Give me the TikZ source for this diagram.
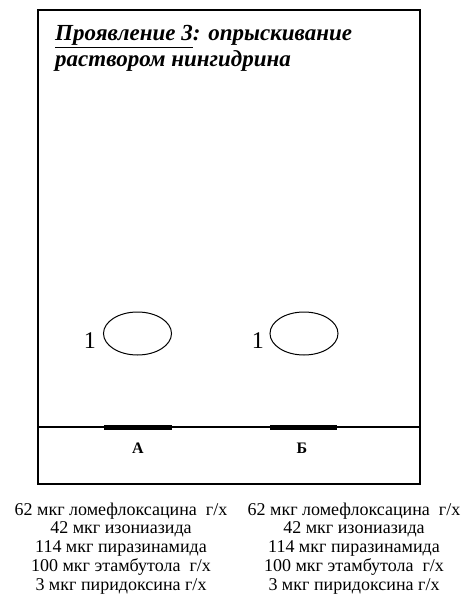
\documentclass[tikz,border=0pt]{standalone}
\usepackage{fontspec}
\setmainfont{Liberation Serif}
\usetikzlibrary{shapes.geometric}
\begin{document}
\begin{tikzpicture}[x=1pt,y=-1pt,
  plate/.style={draw,line width=1.6pt},
  spot/.style={draw,ellipse,line width=1pt,minimum width=68pt,minimum height=43pt,inner sep=0pt},
  startbar/.style={line width=5pt},
  num/.style={font=\fontsize{24}{24}\selectfont,inner sep=0pt},
  lane/.style={font=\bfseries\fontsize{16}{16}\selectfont,inner sep=0pt},
  ttl/.style={anchor=base west,font=\bfseries\itshape\fontsize{23}{23}\selectfont,inner sep=0pt},
  comp/.style={align=center,font=\fontsize{18}{18.75}\selectfont,inner sep=0pt,anchor=base}]
\useasboundingbox (0,0) rectangle (463,599);
\draw[plate] (38,10) rectangle (420,484);
\coordinate (sl) at (38,427);
\coordinate (sr) at (420,427);
\draw[line width=1.4pt] (sl) -- (sr);
\coordinate (a1) at (104,427); \coordinate (a2) at (172,427);
\coordinate (b1) at (270,427); \coordinate (b2) at (337,427);
\draw[startbar] (a1) -- (a2);
\draw[startbar] (b1) -- (b2);
\node[lane] (la) at (138,448.5) {А};
\node[lane] (lb) at (302,448.5) {Б};
\node[spot] (s1) at (137.5,333.5) {};
\node[spot] (s2) at (304,333.5) {};
\node[num,anchor=base east] (n1) at (96,348) {1};
\node[num,anchor=base east] (n2) at (264,348) {1};
\node[ttl] (t1) at (55,41) {\underline{Проявление 3}: опрыскивание};
\node[ttl] (t2) at (55,67) {раствором нингидрина};
\node[comp] (ca) at (121,590) {62 мкг ломефлоксацина\ \ г/х\\42 мкг изониазида\\114 мкг пиразинамида\\100 мкг этамбутола\ \ г/х\\3 мкг пиридоксина г/х};
\node[comp] (cb) at (354,590) {62 мкг ломефлоксацина\ \ г/х\\42 мкг изониазида\\114 мкг пиразинамида\\100 мкг этамбутола\ \ г/х\\3 мкг пиридоксина г/х};
\end{tikzpicture}
\end{document}
